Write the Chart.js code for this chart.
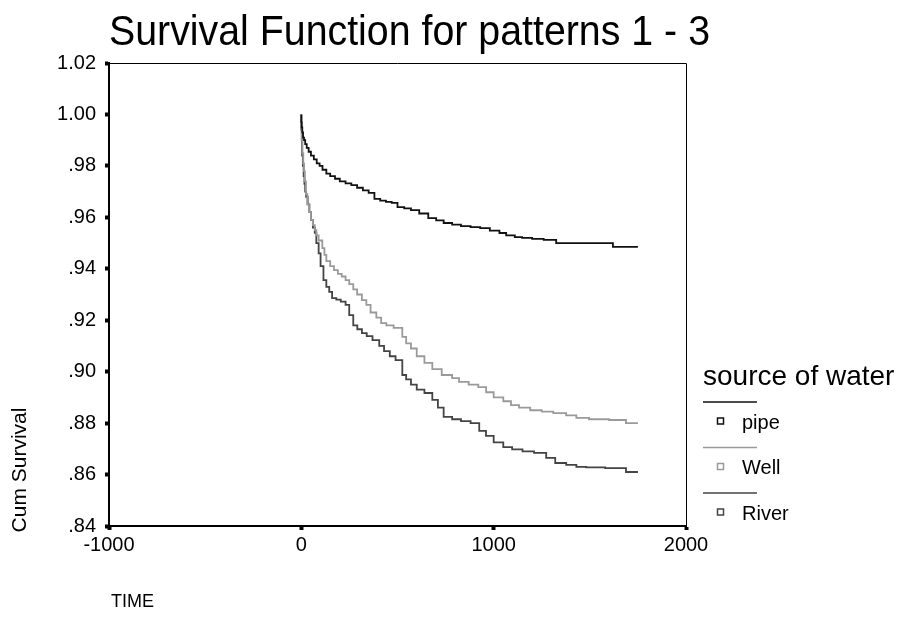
<!DOCTYPE html>
<html>
<head>
<meta charset="utf-8">
<script src="https://cdn.jsdelivr.net/npm/chart.js@4/dist/chart.umd.min.js"></script>
<style>
  html, body { margin: 0; padding: 0; background: #fff; }
  #survivalChart { display: block; }
</style>
</head>
<body>
<canvas id="survivalChart" width="901" height="619"></canvas>
<script>
"use strict";
// Kaplan-Meier estimates, time in days
const groups = ['pipe', 'Well', 'River'];
const groupColors = ['#111111', '#9a9a9a', '#444444'];

const pipeTime = [0, 2, 5, 9, 14, 20, 28, 38, 50, 65, 80, 95, 110, 130, 150, 175, 200, 230, 260, 290, 320, 350, 380, 410, 440, 470, 500, 535, 570, 613, 660, 701, 740, 784, 830, 880, 930, 980, 1030, 1065, 1110, 1148, 1200, 1260, 1325, 1392, 1450, 1540, 1620, 1693, 1750];
const pipeSurv = [1.000, .997, .995, .993, .991, .990, .9885, .987, .9855, .984, .9825, .981, .980, .9785, .977, .976, .975, .974, .9732, .9725, .9715, .9705, .9695, .9672, .9665, .9660, .9656, .9640, .9635, .9628, .9615, .9597, .9588, .9578, .9572, .9566, .9562, .9558, .9548, .9539, .9530, .9523, .9520, .9516, .9512, .9500, .9500, .9500, .9500, .9485, .9485];

const wellTime = [0, 3, 6, 10, 14, 18, 24, 31, 40, 50, 60, 70, 78, 90, 109, 120, 130, 150, 170, 190, 210, 230, 249, 270, 290, 315, 338, 360, 390, 415, 442, 480, 525, 545, 570, 600, 640, 681, 730, 784, 820, 870, 920, 961, 1000, 1050, 1090, 1132, 1190, 1250, 1310, 1377, 1430, 1496, 1600, 1688, 1740, 1750];
const wellSurv = [1.000, .995, .990, .985, .981, .978, .974, .969, .965, .962, .959, .957, .955, .953, .951, .948, .9454, .943, .941, .9395, .938, .937, .9356, .934, .932, .930, .9278, .926, .923, .921, .9189, .9180, .917, .9135, .911, .909, .906, .9034, .9010, .8987, .8975, .896, .895, .894, .892, .890, .8885, .887, .886, .885, .8845, .8839, .8830, .882, .8815, .8812, .880, .880];

const riverTime = [0, 2, 4, 8, 12, 16, 20, 25, 33, 42, 50, 60, 70, 78, 90, 100, 115, 130, 145, 160, 182, 205, 230, 249, 270, 291, 315, 340, 370, 405, 430, 460, 490, 525, 545, 570, 600, 640, 681, 710, 740, 784, 830, 880, 925, 960, 1000, 1050, 1096, 1150, 1210, 1273, 1320, 1377, 1430, 1481, 1580, 1688, 1740, 1750];
const riverSurv = [1.000, .994, .990, .984, .980, .976, .973, .970, .968, .965, .962, .959, .956, .954, .950, .946, .941, .9356, .933, .931, .9286, .9280, .9272, .9260, .922, .918, .9165, .915, .9138, .9123, .910, .908, .906, .9045, .8987, .897, .895, .893, .8917, .889, .886, .8824, .8815, .8808, .880, .877, .875, .8725, .8707, .8698, .869, .8684, .8665, .8645, .8638, .863, .8628, .8625, .861, .861];

const xTicks = [-1000, 0, 1000, 2000];
const yTicks = [.84, .86, .88, .90, .92, .94, .96, .98, 1.00, 1.02];

const FONT = '"Liberation Sans", Arial, Helvetica, sans-serif';
Chart.defaults.font.family = FONT;
Chart.defaults.color = '#000';

function toPoints(times, surv) {
    return times.map((t, i) => ({ x: t, y: surv[i] }));
}

const series = [toPoints(pipeTime, pipeSurv), toPoints(wellTime, wellSurv), toPoints(riverTime, riverSurv)];

function fmtSurv(v) {
    const s = Number(v).toFixed(2);
    return v < 1 ? s.replace(/^0/, '') : s;
}

// squeeze a string horizontally so it spans the given width
function fitText(ctx, text, left, y, width) {
    const w = ctx.measureText(text).width;
    ctx.save();
    ctx.translate(left, y);
    ctx.scale(width / w, 1);
    ctx.textAlign = 'left';
    ctx.fillText(text, 0, 0);
    ctx.restore();
}

// titles, frame and the legend block on the right
const decorations = {
    id: 'decorations',
    afterDraw(chart) {
        const ctx = chart.ctx;
        const area = chart.chartArea;
        ctx.save();
        ctx.fillStyle = '#000';
        ctx.textBaseline = 'alphabetic';

        ctx.font = '43px ' + FONT;
        fitText(ctx, 'Survival Function for patterns 1 - 3', 109, 45, 601);

        ctx.font = '18px ' + FONT;
        ctx.textAlign = 'left';
        ctx.fillText('TIME', 111, 607);

        ctx.save();
        ctx.translate(26, 470);
        ctx.rotate(-Math.PI / 2);
        ctx.textAlign = 'center';
        ctx.font = '21px ' + FONT;
        ctx.fillText('Cum Survival', 0, 0);
        ctx.restore();

        // thin top and right edges of the frame
        ctx.strokeStyle = '#000';
        ctx.lineWidth = 1;
        ctx.beginPath();
        ctx.moveTo(area.left, area.top + 0.5);
        ctx.lineTo(area.right + 0.5, area.top + 0.5);
        ctx.lineTo(area.right + 0.5, area.bottom);
        ctx.stroke();

        // legend
        const lx = 703;
        ctx.font = '28px ' + FONT;
        ctx.textAlign = 'left';
        ctx.fillText('source of water', lx, 385);
        ctx.font = '20px ' + FONT;
        ctx.textBaseline = 'middle';
        chart.data.datasets.forEach((ds, i) => {
            const top = 402 + i * 45.5;
            ctx.strokeStyle = ds.borderColor;
            ctx.lineWidth = 1.5;
            ctx.beginPath();
            ctx.moveTo(lx, top);
            ctx.lineTo(lx + 54, top);
            ctx.stroke();
            const my = top + 19;
            ctx.strokeRect(lx + 14.5, my - 3, 6, 6);
            ctx.fillStyle = '#000';
            ctx.fillText(ds.label, lx + 39, my + 2);
        });
        ctx.restore();
    }
};

const canvas = document.getElementById('survivalChart');
new Chart(canvas.getContext('2d'), {
    type: 'line',
    data: {
        datasets: groups.map((g, i) => ({
            label: g,
            data: series[i],
            borderColor: groupColors[i],
            borderWidth: 1.8,
            stepped: 'after',
            pointRadius: 0,
            fill: false
        }))
    },
    options: {
        responsive: false,
        animation: false,
        devicePixelRatio: 1,
        layout: { padding: { left: 0, right: 215, top: 63, bottom: 0 } },
        plugins: {
            legend: { display: false },
            title: { display: false },
            tooltip: { enabled: false }
        },
        scales: {
            x: {
                type: 'linear',
                min: xTicks[0],
                max: xTicks[xTicks.length - 1],
                afterFit: s => { s.height = 93; },
                afterBuildTicks: s => { s.ticks = xTicks.map(v => ({ value: v })); },
                border: { color: '#000', width: 2 },
                grid: { display: true, drawOnChartArea: false, color: '#000', tickLength: 4, tickWidth: 4 },
                ticks: { font: { size: 20 }, padding: 3, maxRotation: 0, callback: v => String(v) }
            },
            y: {
                type: 'linear',
                min: yTicks[0],
                max: yTicks[yTicks.length - 1],
                afterFit: s => { s.width = 109; },
                afterBuildTicks: s => { s.ticks = yTicks.map(v => ({ value: v })); },
                border: { color: '#000', width: 2 },
                grid: { display: true, drawOnChartArea: false, color: '#000', tickLength: 4, tickWidth: 4 },
                ticks: { font: { size: 20 }, padding: 9, callback: v => fmtSurv(v) }
            }
        }
    },
    plugins: [decorations]
});
</script>
</body>
</html>
